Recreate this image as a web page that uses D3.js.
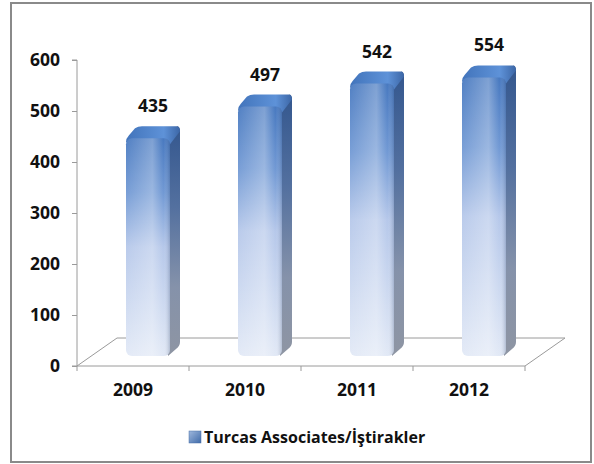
<!DOCTYPE html>
<html>
<head>
<meta charset="utf-8">
<script src="https://cdn.jsdelivr.net/npm/d3@7"></script>
<style>
  body { margin: 0; background: #fff; }
  text { font-family: "Open Sans", Lato, sans-serif; font-weight: bold; fill: #111; }
</style>
</head>
<body>
<script>
// chart values
var years = ["2009", "2010", "2011", "2012"];
var values = [435, 497, 542, 554];
var yTicks = [0, 100, 200, 300, 400, 500, 600];
var seriesName = "Turcas Associates/İştirakler";

function draw() {
    var w = 594, h = 464;
    var svg = d3.select("body").append("svg")
        .attr("width", w)
        .attr("height", h);

    var defs = svg.append("defs");
    // front face: blue at top, pale at the bottom
    var gFront = defs.append("linearGradient").attr("id", "front")
        .attr("x1", 0).attr("y1", 0).attr("x2", 0).attr("y2", 1);
    gFront.append("stop").attr("offset", "0%").attr("stop-color", "#4879c0");
    gFront.append("stop").attr("offset", "25%").attr("stop-color", "#7199d4");
    gFront.append("stop").attr("offset", "50%").attr("stop-color", "#b6c8ea");
    gFront.append("stop").attr("offset", "100%").attr("stop-color", "#e2e9f6");
    // highlight across the front (light in the middle, dark at the right edge)
    var gShine = defs.append("linearGradient").attr("id", "shine")
        .attr("x1", 0).attr("y1", 0).attr("x2", 1).attr("y2", 0);
    gShine.append("stop").attr("offset", "0%").attr("stop-color", "#fff").attr("stop-opacity", 0.05);
    gShine.append("stop").attr("offset", "60%").attr("stop-color", "#fff").attr("stop-opacity", 0.3);
    gShine.append("stop").attr("offset", "85%").attr("stop-color", "#fff").attr("stop-opacity", 0.0);
    gShine.append("stop").attr("offset", "100%").attr("stop-color", "#2a3f66").attr("stop-opacity", 0.25);
    // side face
    var gSide = defs.append("linearGradient").attr("id", "side")
        .attr("x1", 0).attr("y1", 0).attr("x2", 0).attr("y2", 1);
    gSide.append("stop").attr("offset", "0%").attr("stop-color", "#34578e");
    gSide.append("stop").attr("offset", "35%").attr("stop-color", "#53709f");
    gSide.append("stop").attr("offset", "70%").attr("stop-color", "#8592aa");
    gSide.append("stop").attr("offset", "100%").attr("stop-color", "#8e95a3");
    // top face
    var gTop = defs.append("linearGradient").attr("id", "top")
        .attr("x1", 0).attr("y1", 0).attr("x2", 1).attr("y2", 0);
    gTop.append("stop").attr("offset", "0%").attr("stop-color", "#4274bb");
    gTop.append("stop").attr("offset", "70%").attr("stop-color", "#5e92d8");
    gTop.append("stop").attr("offset", "100%").attr("stop-color", "#3c66a6");
    // legend box
    var gLeg = defs.append("linearGradient").attr("id", "leg")
        .attr("x1", 0).attr("y1", 0).attr("x2", 1).attr("y2", 1);
    gLeg.append("stop").attr("offset", "0%").attr("stop-color", "#9fb8dd");
    gLeg.append("stop").attr("offset", "100%").attr("stop-color", "#3f6aa8");

    // frame
    svg.append("rect")
        .attr("x", 11).attr("y", 3)
        .attr("width", 580).attr("height", 459)
        .attr("fill", "#fff")
        .attr("stroke", "#8a8a8a")
        .attr("stroke-width", 2);

    // scales
    var x0 = 77, x1 = 525, depthX = 40, depthY = -28;
    var x = d3.scaleBand().domain(years).range([x0, x1]).padding(0);
    var y = d3.scaleLinear().domain([0, 600]).range([366, 60]);

    var axisColor = "#9a9a9a";

    // floor (3D base)
    var floor = svg.append("g").attr("stroke", axisColor).attr("fill", "none").attr("stroke-width", 1);
    floor.append("path").attr("d", d3.line()([
        [x0, y(0)], [x0 + depthX, y(0) + depthY],
        [x1 + depthX, y(0) + depthY], [x1, y(0)]
    ]));

    // y axis
    var yAxis = d3.axisLeft(y).tickValues(yTicks).tickSize(5).tickPadding(12);
    var gy = svg.append("g").attr("transform", "translate(" + x0 + ",0)").call(yAxis);
    gy.select(".domain").attr("stroke", axisColor).attr("d", "M-5," + y(600) + "H0V" + y(0) + "H-5");
    gy.selectAll(".tick line").attr("stroke", axisColor);
    gy.selectAll(".tick text").style("font-size", "17.5px").attr("fill", "#111");

    // x axis (front floor edge)
    var xAxis = d3.axisBottom(x).tickSize(0).tickPadding(18);
    var gx = svg.append("g").attr("transform", "translate(0," + y(0) + ")").call(xAxis);
    gx.select(".domain").attr("stroke", axisColor).attr("d", "M" + x0 + ",0H" + x1);
    gx.selectAll(".tick text").style("font-size", "17.5px").attr("fill", "#111");
    // tick marks on the category boundaries
    gx.selectAll("line.sep").data(d3.range(years.length + 1)).enter()
        .append("line").attr("class", "sep")
        .attr("x1", function(i) { return x0 + i * x.bandwidth(); })
        .attr("x2", function(i) { return x0 + i * x.bandwidth(); })
        .attr("y1", 0).attr("y2", 5)
        .attr("stroke", axisColor);

    // bars
    var faceL = 49, faceW = 44, sideX = 10, sideY = -12;
    var bars = svg.selectAll("g.bar")
        .data(values)
        .enter()
        .append("g")
        .attr("class", "bar");

    bars.each(function(d, i) {
        var g = d3.select(this);
        var left = x(years[i]) + faceL;
        var right = left + faceW;
        var top = y(d) - 6;
        var bottom = y(0) - 10;
        // side face
        g.append("path")
            .attr("d", "M" + (right - 3) + "," + top +
                "L" + (right + sideX - 3) + "," + (top + sideY) +
                "Q" + (right + sideX) + "," + (top + sideY) + " " + (right + sideX) + "," + (top + sideY + 5) +
                "L" + (right + sideX) + "," + (bottom + sideY - 2) +
                "Q" + (right + sideX) + "," + (bottom + sideY + 2) + " " + (right + sideX - 4) + "," + (bottom + sideY + 5) +
                "L" + (right - 2) + "," + bottom + "Z")
            .attr("fill", "url(#side)");
        // top face
        g.append("path")
            .attr("d", "M" + left + "," + (top + 4) +
                "Q" + left + "," + top + " " + (left + 3) + "," + (top - 3) +
                "L" + (left + sideX - 1) + "," + (top + sideY + 2) +
                "Q" + (left + sideX + 2) + "," + (top + sideY) + " " + (left + sideX + 6) + "," + (top + sideY) +
                "L" + (right + sideX - 4) + "," + (top + sideY) +
                "Q" + (right + sideX) + "," + (top + sideY) + " " + (right + sideX) + "," + (top + sideY + 5) +
                "L" + right + "," + (top + 6) + "Z")
            .attr("fill", "url(#top)");
        // front face
        g.append("rect")
            .attr("x", left).attr("y", top)
            .attr("width", faceW).attr("height", bottom - top)
            .attr("rx", 6).attr("ry", 6)
            .attr("fill", "url(#front)");
        g.append("rect")
            .attr("x", left).attr("y", top)
            .attr("width", faceW).attr("height", bottom - top)
            .attr("rx", 6).attr("ry", 6)
            .attr("fill", "url(#shine)");
    });

    // value labels
    bars.append("text")
        .text(function(d) { return d; })
        .attr("text-anchor", "middle")
        .attr("dominant-baseline", "central")
        .style("font-size", "17.5px")
        .attr("x", function(d, i) { return x(years[i]) + faceL + (faceW + sideX) / 2; })
        .attr("y", function(d) { return y(d) - 39; });

    // legend
    var leg = svg.append("g").attr("transform", "translate(189,431)");
    leg.append("rect").attr("width", 12).attr("height", 12)
        .attr("fill", "url(#leg)").attr("stroke", "#4a6fa8").attr("stroke-width", 0.5);
    leg.append("text").attr("x", 15).attr("y", 6)
        .attr("dominant-baseline", "central")
        .style("font-size", "16px")
        .text(seriesName);
}

window.onload = draw;
</script>
</body>
</html>
